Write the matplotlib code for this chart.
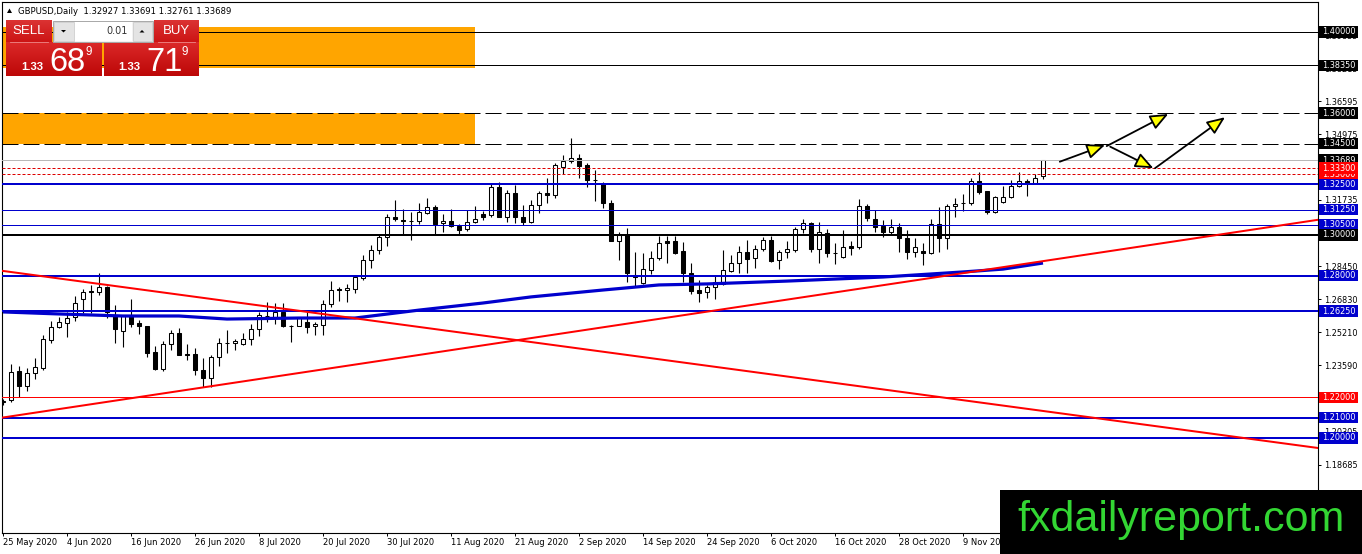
import numpy as np
import matplotlib
matplotlib.use("Agg")
import matplotlib.pyplot as plt
from matplotlib.patches import Rectangle, Polygon, FancyArrowPatch
import matplotlib.transforms as mtransforms

# ---------------- data ----------------
opens = [1.2177, 1.2187, 1.2330, 1.2258, 1.2319, 1.2343, 1.2483, 1.2545, 1.2568, 1.2594,
         1.2683, 1.2722, 1.2721, 1.2744, 1.2606, 1.2529, 1.2601, 1.2568, 1.2552, 1.2424,
         1.2341, 1.2461, 1.2515, 1.2414, 1.2414, 1.2335, 1.2294, 1.2397, 1.2469, 1.2466,
         1.2461, 1.2486, 1.2536, 1.2601, 1.2598, 1.2622, 1.2552, 1.2552, 1.2573, 1.2552,
         1.2559, 1.2659, 1.2732, 1.2728, 1.2732, 1.2786, 1.2877, 1.2926, 1.2991, 1.3090,
         1.3076, 1.3068, 1.3068, 1.3108, 1.3137, 1.3058, 1.3068, 1.3045, 1.3028, 1.3063,
         1.3101, 1.3097, 1.3235, 1.3090, 1.3209, 1.3090, 1.3063, 1.3148, 1.3209, 1.3197,
         1.3333, 1.3364, 1.3378, 1.3345, 1.3271, 1.3251, 1.3157, 1.2972, 1.3000, 1.2803,
         1.2763, 1.2829, 1.2885, 1.2971, 1.2971, 1.2921, 1.2811, 1.2729, 1.2719, 1.2742,
         1.2759, 1.2825, 1.2862, 1.2915, 1.2885, 1.2929, 1.2975, 1.2876, 1.2915, 1.2926,
         1.3032, 1.3057, 1.2931, 1.3011, 1.2913, 1.2890, 1.2946, 1.2942, 1.3143, 1.3078,
         1.3045, 1.3013, 1.3039, 1.2984, 1.2918, 1.2921, 1.2910, 1.3054, 1.2984, 1.3143,
         1.3159, 1.3156, 1.3267, 1.3216, 1.3112, 1.3164, 1.3189, 1.3241, 1.3266, 1.3255,
         1.32927]
highs = [1.2192, 1.2364, 1.2355, 1.2343, 1.2393, 1.2507, 1.2576, 1.2598, 1.2622, 1.2700,
         1.2733, 1.2754, 1.2811, 1.2747, 1.2655, 1.2601, 1.2683, 1.2581, 1.2552, 1.2453,
         1.2478, 1.2532, 1.2540, 1.2463, 1.2442, 1.2393, 1.2409, 1.2491, 1.2532, 1.2487,
         1.2515, 1.2564, 1.2622, 1.2671, 1.2667, 1.2667, 1.2557, 1.2591, 1.2622, 1.2573,
         1.2680, 1.2771, 1.2745, 1.2757, 1.2802, 1.2901, 1.2951, 1.3005, 1.3101, 1.3170,
         1.3129, 1.3112, 1.3159, 1.3181, 1.3148, 1.3105, 1.3129, 1.3054, 1.3122, 1.3142,
         1.3117, 1.3257, 1.3262, 1.3221, 1.3245, 1.3148, 1.3172, 1.3217, 1.3279, 1.3357,
         1.3394, 1.3476, 1.3397, 1.3353, 1.3320, 1.3262, 1.3172, 1.3017, 1.3033, 1.2917,
         1.2912, 1.2922, 1.2995, 1.2995, 1.2995, 1.2967, 1.2861, 1.2778, 1.2754, 1.2798,
         1.2926, 1.2901, 1.2944, 1.2975, 1.2951, 1.2991, 1.2995, 1.2926, 1.2971, 1.3040,
         1.3077, 1.3062, 1.3062, 1.3029, 1.2962, 1.3025, 1.2972, 1.3175, 1.3151, 1.3122,
         1.3074, 1.3077, 1.3061, 1.3025, 1.2984, 1.2959, 1.3077, 1.3139, 1.3153, 1.3181,
         1.3202, 1.3279, 1.3312, 1.3219, 1.3192, 1.3241, 1.3271, 1.3309, 1.3274, 1.3300,
         1.33691]
lows = [1.2163, 1.2179, 1.2204, 1.2233, 1.2289, 1.2335, 1.2469, 1.2540, 1.2499, 1.2577,
        1.2614, 1.2614, 1.2704, 1.2590, 1.2469, 1.2450, 1.2548, 1.2512, 1.2400, 1.2335,
        1.2331, 1.2434, 1.2409, 1.2385, 1.2310, 1.2253, 1.2253, 1.2355, 1.2417, 1.2434,
        1.2458, 1.2458, 1.2502, 1.2573, 1.2564, 1.2548, 1.2474, 1.2552, 1.2519, 1.2507,
        1.2507, 1.2647, 1.2675, 1.2671, 1.2714, 1.2778, 1.2836, 1.2906, 1.2944, 1.3068,
        1.3005, 1.2976, 1.3056, 1.3105, 1.3005, 1.3017, 1.3039, 1.3005, 1.3021, 1.3060,
        1.3076, 1.3090, 1.3090, 1.3063, 1.3060, 1.3051, 1.3060, 1.3110, 1.3156, 1.3181,
        1.3300, 1.3353, 1.3279, 1.3238, 1.3169, 1.3132, 1.2972, 1.2877, 1.2770, 1.2749,
        1.2758, 1.2808, 1.2877, 1.2863, 1.2906, 1.2770, 1.2709, 1.2671, 1.2688, 1.2683,
        1.2754, 1.2820, 1.2811, 1.2814, 1.2836, 1.2922, 1.2866, 1.2832, 1.2888, 1.2915,
        1.3008, 1.2918, 1.2863, 1.2893, 1.2858, 1.2885, 1.2901, 1.2931, 1.3068, 1.3017,
        1.2989, 1.3005, 1.2915, 1.2880, 1.2893, 1.2852, 1.2906, 1.2918, 1.2929, 1.3090,
        1.3120, 1.3148, 1.3203, 1.3105, 1.3108, 1.3159, 1.3181, 1.3237, 1.3194, 1.3251,
        1.32761]
closes = [1.2182, 1.2327, 1.2258, 1.2319, 1.2348, 1.2486, 1.2545, 1.2570, 1.2590, 1.2664,
          1.2718, 1.2718, 1.2744, 1.2622, 1.2536, 1.2601, 1.2564, 1.2552, 1.2420, 1.2341,
          1.2461, 1.2515, 1.2409, 1.2410, 1.2335, 1.2294, 1.2397, 1.2469, 1.2468, 1.2476,
          1.2486, 1.2536, 1.2606, 1.2600, 1.2619, 1.2552, 1.2551, 1.2590, 1.2548, 1.2564,
          1.2660, 1.2728, 1.2731, 1.2737, 1.2794, 1.2877, 1.2926, 1.2989, 1.3090, 1.3080,
          1.3070, 1.3067, 1.3112, 1.3137, 1.3055, 1.3068, 1.3042, 1.3025, 1.3065, 1.3080,
          1.3090, 1.3235, 1.3090, 1.3209, 1.3090, 1.3063, 1.3148, 1.3206, 1.3197, 1.3345,
          1.3364, 1.3378, 1.3340, 1.3271, 1.3270, 1.3157, 1.2972, 1.3000, 1.2811, 1.2791,
          1.2832, 1.2885, 1.2963, 1.2963, 1.2910, 1.2811, 1.2725, 1.2715, 1.2742, 1.2770,
          1.2828, 1.2862, 1.2915, 1.2883, 1.2929, 1.2975, 1.2871, 1.2917, 1.2929, 1.3032,
          1.3057, 1.2931, 1.3013, 1.2910, 1.2912, 1.2939, 1.2937, 1.3143, 1.3083, 1.3039,
          1.3013, 1.3039, 1.2984, 1.2918, 1.2939, 1.2910, 1.3054, 1.2984, 1.3143, 1.3153,
          1.3158, 1.3267, 1.3211, 1.3112, 1.3186, 1.3189, 1.3241, 1.3266, 1.3258, 1.3279,
          1.33689]

# moving average (bar index, price)
ma_bars = [0, 7, 15, 22, 28, 37, 44, 52, 60, 66, 75, 82, 88, 98, 110, 120, 125, 130]
ma_vals = [1.2621, 1.2611, 1.2601, 1.2601, 1.2586, 1.2591, 1.2591, 1.2630, 1.2665, 1.2695,
           1.2729, 1.2754, 1.2759, 1.2773, 1.2793, 1.2818, 1.2832, 1.2862]

tick_labels = ["25 May 2020", "4 Jun 2020", "16 Jun 2020", "26 Jun 2020", "8 Jul 2020",
               "20 Jul 2020", "30 Jul 2020", "11 Aug 2020", "21 Aug 2020", "2 Sep 2020",
               "14 Sep 2020", "24 Sep 2020", "6 Oct 2020", "16 Oct 2020", "28 Oct 2020",
               "9 Nov 2020", "19 Nov 2020"]
tick_step = 8

grid_prices = [1.39835, 1.38215, 1.36595, 1.34975, 1.31735, 1.28450,
               1.26830, 1.25210, 1.23590, 1.20305, 1.18685]

lv_black = [1.40000, 1.38350]
lv_black_dash = [1.36000, 1.34500]
lv_red_dot = [1.33300, 1.33000]
lv_blue_thick = [1.32500, 1.28000, 1.26250, 1.21000, 1.20000]
lv_blue_thin = [1.31250, 1.30500]
lv_black_thick = [1.30000]
lv_red_thin = [1.22000]
current_price = 1.33689
ask_price = 1.33719

label_boxes = [(1.40000, "black"), (1.38350, "black"), (1.36000, "black"), (1.34500, "black"),
               (1.33689, "black"), (1.33000, "red"), (1.33300, "red"), (1.32500, "blue"),
               (1.31250, "blue"), (1.30500, "blue"), (1.30000, "black"), (1.28000, "blue"),
               (1.26250, "blue"), (1.22000, "red"), (1.21000, "blue"), (1.20000, "blue")]

zones = [(-1, 59, 1.3821, 1.4026), (-1, 59, 1.3448, 1.3600)]

trend_up = ((0, 1.2101), (160, 1.3049))
trend_down = ((0, 1.2823), (160, 1.1974))

arrows = [((132.1, 1.3361), (137.75, 1.3443)),
          ((137.96, 1.3438), (145.66, 1.3596)),
          ((138.4, 1.3435), (143.8, 1.3329)),
          ((144.0, 1.3329), (152.75, 1.3580))]

# ---------------- layout ----------------
W, H, DPI = 1362, 554, 100
AX_L, AX_R, AX_T, AX_B = 2, 1318, 2, 533
BAR0_PX, BAR_PX = 3, 8
REF_PRICE, REF_Y, PPX = 1.40, 32, 0.2 / 406

fig = plt.figure(figsize=(W / DPI, H / DPI), dpi=DPI, facecolor="white")
ax = fig.add_axes([AX_L / W, 1 - AX_B / H, (AX_R - AX_L) / W, (AX_B - AX_T) / H])
ax.set_xlim((AX_L - BAR0_PX) / BAR_PX, (AX_R - BAR0_PX) / BAR_PX)
ax.set_ylim(REF_PRICE - (AX_B - REF_Y) * PPX, REF_PRICE + (REF_Y - AX_T) * PPX)
ax.set_facecolor("white")
for s in ax.spines.values():
    s.set_color("black")
    s.set_linewidth(0.8)

BLUE = "#0000CD"

# zones
for x0, x1, y0, y1 in zones:
    ax.add_patch(Rectangle((x0, y0), x1 - x0, y1 - y0, facecolor="#FFA500",
                           edgecolor="none", zorder=1))

# candles
o = np.array(opens); h = np.array(highs); l = np.array(lows); c = np.array(closes)
xs = np.arange(len(o))
up = c >= o
ax.vlines(xs, l, h, color="black", lw=0.8, zorder=3)
lo = np.minimum(o, c); hi = np.maximum(o, c)
ax.bar(xs, hi - lo, bottom=lo, width=0.6,
       color=np.where(up, "white", "black"), edgecolor="black", linewidth=0.75, zorder=3.5)

# moving average
ax.plot(ma_bars, ma_vals, color=BLUE, lw=2.3, zorder=4, solid_capstyle="butt")

# horizontal levels
ax.axhline(current_price, color="#b8b8b8", lw=0.72, zorder=4.2)
for v in lv_black:
    ax.axhline(v, color="black", lw=0.72, zorder=5)
for v in lv_black_dash:
    ax.axhline(v, color="black", lw=0.72, ls=(0, (16, 5)), zorder=5)
for v in lv_red_dot:
    ax.axhline(v, color="#dd0000", lw=0.72, ls=(0, (3, 2)), zorder=5)
for v in lv_blue_thick:
    ax.axhline(v, color=BLUE, lw=1.44, zorder=5)
for v in lv_blue_thin:
    ax.axhline(v, color=BLUE, lw=0.72, zorder=5)
for v in lv_black_thick:
    ax.axhline(v, color="black", lw=1.44, zorder=5)
for v in lv_red_thin:
    ax.axhline(v, color="red", lw=0.72, zorder=5)

# trend lines
ax.axline(trend_up[0], trend_up[1], color="red", lw=1.44, zorder=5.5)
ax.axline(trend_down[0], trend_down[1], color="red", lw=1.44, zorder=5.5)

# arrows
for (p0, p1) in arrows:
    ax.add_patch(FancyArrowPatch(p0, p1, arrowstyle="-|>,head_length=11,head_width=4.6",
                                 mutation_scale=1, facecolor="#FFFF00", edgecolor="black",
                                 lw=1.3, shrinkA=0, shrinkB=0, zorder=6))

# x axis
ax.set_xticks(np.arange(len(tick_labels)) * tick_step)
ax.set_xticklabels(tick_labels, ha="left", fontsize=6, family="DejaVu Sans")
ax.tick_params(axis="x", direction="out", length=2.5, width=0.7, pad=1.2, colors="black")

# y axis on the right
ax.yaxis.tick_right()
ax.set_yticks(grid_prices)
ax.set_yticklabels([f"{v:.5f}" for v in grid_prices], fontsize=5.9, family="DejaVu Sans")
ax.tick_params(axis="y", direction="out", length=2.5, width=0.7, pad=1.5,
               left=False, right=True, labelleft=False, labelright=True)

# price label boxes
trans = mtransforms.blended_transform_factory(ax.transAxes, ax.transData)
axw = AX_R - AX_L
bx0 = (1319 - AX_L) / axw
bx1 = (1358 - AX_L) / axw
bh = 11.5 * PPX
for i, (v, col) in enumerate(label_boxes):
    fc = {"black": "black", "red": "#FF0000", "blue": BLUE}[col]
    ax.add_patch(Rectangle((bx0, v - bh / 2), bx1 - bx0, bh, transform=trans, facecolor=fc,
                           edgecolor="none", clip_on=False, zorder=10 + i * 0.01))
    ax.text((1322 - AX_L) / axw, v, f"{v:.5f}", transform=trans, color="white", fontsize=5.9,
            family="DejaVu Sans", va="center", ha="left", clip_on=False,
            zorder=10.005 + i * 0.01)

# ---------------- overlay (panel, title, logo) ----------------
ov = fig.add_axes([0, 0, 1, 1], zorder=20)
ov.axis("off")


def grad(x0, y0, x1, y1, ctop, cbot, z):
    arr = np.linspace(np.array(ctop), np.array(cbot), 40)[:, None, :]
    ov.imshow(arr, extent=(x0, x1, y1, y0), aspect="auto", interpolation="bilinear", zorder=z)


# title
ov.add_patch(Polygon([(7, 13), (12, 13), (9.5, 8.5)], closed=True, facecolor="black",
                     edgecolor="none", zorder=2))
ov.text(18, 11, "GBPUSD,Daily  " + " ".join(f"{v:.5f}" for v in
                                             (opens[-1], highs[-1], lows[-1], closes[-1])),
        fontsize=6.1, family="DejaVu Sans", va="center", ha="left", color="black", zorder=2)

top_c, bot_c = (0.86, 0.16, 0.16), (0.74, 0.03, 0.03)
# SELL block
grad(6, 20, 52, 42, (0.86, 0.20, 0.20), (0.80, 0.08, 0.08), 2)
grad(6, 42, 102, 76, top_c, bot_c, 2)
ov.plot([10, 48], [42.2, 42.2], color="#e88", lw=0.6, zorder=3)
# BUY block
grad(154, 20, 199, 42, (0.86, 0.20, 0.20), (0.80, 0.08, 0.08), 2)
grad(104, 42, 199, 76, top_c, bot_c, 2)
ov.plot([158, 195], [42.2, 42.2], color="#e88", lw=0.6, zorder=3)
# lot control
ov.add_patch(Rectangle((53, 20.5), 100, 21.5, facecolor="#f2f2f2", edgecolor="#a8a8a8",
                       lw=0.7, zorder=3))
ov.add_patch(Rectangle((74, 21.5), 58, 19.5, facecolor="white", edgecolor="none", zorder=3.1))
ov.add_patch(Rectangle((54, 21.5), 19.5, 19.5, facecolor="#e4e4e4", edgecolor="#c8c8c8",
                       lw=0.5, zorder=3.1))
ov.add_patch(Rectangle((132.5, 21.5), 19.5, 19.5, facecolor="#e4e4e4", edgecolor="#c8c8c8",
                       lw=0.5, zorder=3.1))
ov.add_patch(Polygon([(61, 30), (66, 30), (63.5, 32.5)], closed=True, facecolor="black",
                     edgecolor="none", zorder=3.2))
ov.add_patch(Polygon([(139.5, 32.5), (144.5, 32.5), (142, 30)], closed=True, facecolor="black",
                     edgecolor="none", zorder=3.2))
ov.text(127.5, 31.5, "0.01", fontsize=7, family="DejaVu Sans", color="#333333",
        ha="right", va="center", zorder=3.3)

NARROW = ["Liberation Sans Narrow", "Liberation Sans", "DejaVu Sans"]
ov.text(28.5, 31.5, "SELL", fontsize=9.5, family=NARROW, color="white", ha="center",
        va="center", zorder=4)
ov.text(176, 31.5, "BUY", fontsize=9.5, family=NARROW, color="white", ha="center",
        va="center", zorder=4)


def price_parts(p):
    s = f"{p:.5f}"
    return s[:4], s[4:6], s[6]


for px0, pr in ((21, current_price), (118, ask_price)):
    a, b, d = price_parts(pr)
    ov.text(px0, 69.5, a, fontsize=8.2, family=["Liberation Sans", "DejaVu Sans"],
            weight="bold", color="white", ha="left", va="baseline", zorder=4)
    ov.text(px0 + 28, 70.7, b, fontsize=23.5, family=NARROW, color="white", ha="left",
            va="baseline", zorder=4)
    ov.text(px0 + 64, 55, d, fontsize=8.4, family=["Liberation Sans", "DejaVu Sans"],
            color="white", ha="left", va="baseline", zorder=4)

# logo
ov.add_patch(Rectangle((1000, 490), 362, 64, facecolor="black", edgecolor="none", zorder=10))
ov.text(1017, 531, "fxdailyreport.com", fontsize=31, family=["Liberation Sans", "DejaVu Sans"],
        color="#33d633", ha="left", va="baseline", zorder=11)

ov.set_xlim(0, W)
ov.set_ylim(H, 0)

fig.savefig("out.png", dpi=DPI, facecolor="white")
